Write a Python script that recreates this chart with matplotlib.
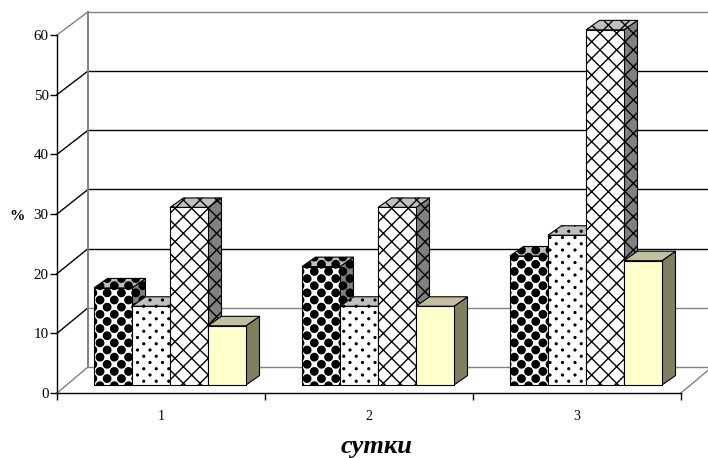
import numpy as np
import matplotlib
matplotlib.use("Agg")
import matplotlib.pyplot as plt
import matplotlib.hatch as mh
from matplotlib.path import Path

days = ["1", "2", "3"]
s1 = [16.4, 20, 21.8]
s2 = [13.3, 13.3, 25.3]
s3 = [30, 30, 60]
s4 = [10, 13.3, 21]
series = [s1, s2, s3, s4]
yticks = [0, 10, 20, 30, 40, 50, 60]

def circle_tile(n, r):
    cell = Path.unit_circle()
    vs, cs = [], []
    for row in range(-1, 2 * n + 1):
        for c in range(-1, n + 1):
            x = (c + .5 * (row % 2)) / n
            y = row / (2 * n)
            vs.append(cell.vertices * r + [x, y])
            cs.append(cell.codes)
    return np.concatenate(vs), np.concatenate(cs)

class Blobs(mh.HatchPatternBase):
    def __init__(self, hatch, density):
        self.num_vertices = 0
        if hatch.count('O'):
            self.v, self.c = circle_tile(7, .037)
            self.num_vertices = len(self.v)
    def set_vertices_and_codes(self, vertices, codes):
        vertices[:len(self.v)] = self.v
        codes[:len(self.c)] = self.c

class Dots(mh.HatchPatternBase):
    def __init__(self, hatch, density):
        self.num_vertices = 0
        if hatch.count('.'):
            self.v, self.c = circle_tile(8, .009)
            self.num_vertices = len(self.v)
    def set_vertices_and_codes(self, vertices, codes):
        vertices[:len(self.v)] = self.v
        codes[:len(self.c)] = self.c

mh._hatch_types[:] = [t for t in mh._hatch_types if t.__name__ in ("NorthEastHatch", "SouthEastHatch")] + [Blobs, Dots]

plt.rcParams['font.family'] = ['Liberation Serif', 'DejaVu Serif']
plt.rcParams['hatch.linewidth'] = 1.0

W, H = 708, 458
fig = plt.figure(figsize=(W / 100, H / 100), dpi=100)
ax = fig.add_axes([57 / W, (H - 393) / H, 624 / W, 358 / H])
ax.set_xlim(0, 3)
ax.set_ylim(0, 60)
ax.patch.set_alpha(0)

PX, PY = 208.0, 358 / 60
DX, DY = 31 / PX, 26 / PY
VS = 0.992
BASE = 8 / PY
BX, BY = 13.5 / PX, 9.5 / PY
BW = 38 / PX
START = 37 / PX

# walls and grid
for v in yticks:
    col = "#808080" if v in (0, 10, 60) else "black"
    ax.plot([DX, 3 + DX], [DY + v * VS] * 2, color=col, lw=1, clip_on=False, zorder=1)
    dcol = "#808080" if v in (0, 60) else "black"
    ax.plot([0, DX], [v, DY + v * VS], color=dcol, lw=1, clip_on=False, zorder=1)
ax.plot([DX, DX], [DY, DY + 60 * VS], color="#808080", lw=1.4, clip_on=False, zorder=1)
ax.plot([3, 3 + DX], [0, DY], color="#808080", lw=1, clip_on=False, zorder=1)

styles = [
    ("O", "white", "#c0c0c0", "#808080"),
    (".", "white", "#c0c0c0", "#808080"),
    ("xx", "white", "#c0c0c0", "#808080"),
    ("", "#ffffcc", "#c0c0a0", "#808060"),
]

z = 2
for g in range(3):
    for k, s in enumerate(series):
        h, f, top, side = styles[k]
        x0 = g + START + k * BW
        y1 = BASE + s[g] * VS
        x1 = x0 + BW
        ax.fill([x1, x1 + BX, x1 + BX, x1], [BASE, BASE + BY, y1 + BY, y1],
                facecolor=side, edgecolor="black", hatch=h, lw=0.8, zorder=z, clip_on=False)
        ax.fill([x0, x1, x1 + BX, x0 + BX], [y1, y1, y1 + BY, y1 + BY],
                facecolor=top, edgecolor="black", hatch=h, lw=0.8, zorder=z, clip_on=False)
        ax.bar(x0, s[g] * VS, BW, bottom=BASE, align="edge", color=f, edgecolor="black",
               hatch=h, lw=0.8, zorder=z, clip_on=False)
        z += 1

for sp in ("top", "right"):
    ax.spines[sp].set_visible(False)
for sp in ("left", "bottom"):
    ax.spines[sp].set_linewidth(1.0)
    ax.spines[sp].set_zorder(1.5)

ax.set_yticks(yticks)
ax.tick_params(axis="y", length=5, width=1, labelsize=10.8, pad=1, direction="out")
ax.set_xticks([0, 1, 2, 3])
ax.set_xticklabels([])
ax.set_xticks([.5, 1.5, 2.5], labels=days, minor=True)
ax.tick_params(axis="x", which="major", length=5, width=1)
ax.tick_params(axis="x", which="minor", length=0, labelsize=10, pad=12)
ax.set_ylabel("%", fontsize=11, fontweight="bold", rotation=0, labelpad=0)
ax.yaxis.set_label_coords(-40 / 624, (393 - 216) / 358)
ax.yaxis.label.set_verticalalignment("center")
ax.set_xlabel("сутки", fontsize=19, fontweight="bold", style="italic")
ax.xaxis.set_label_coords(320 / 624, -(447 - 393) / 358)
ax.xaxis.label.set_verticalalignment("center")

fig.savefig("out.png", dpi=100)
